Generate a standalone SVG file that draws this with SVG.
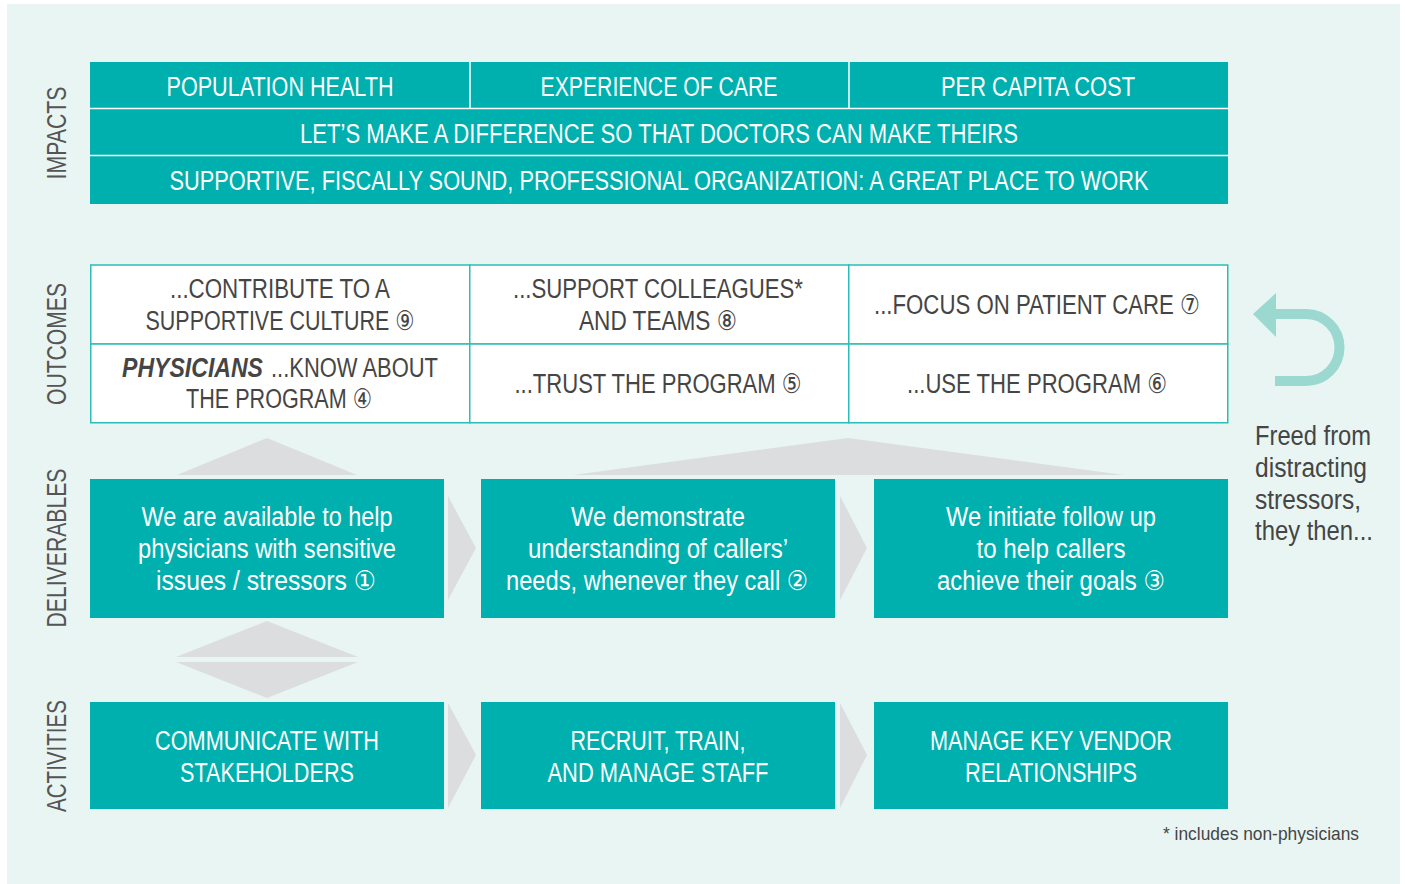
<svg xmlns="http://www.w3.org/2000/svg" width="1405" height="884" viewBox="0 0 1405 884">
  <style>
    .lbl { font-family: "Liberation Sans Narrow", "Liberation Sans", "DejaVu Sans", sans-serif; font-size: 27px; }
    .wt { fill: #ffffff; text-anchor: middle; }
    .dk { fill: #454545; text-anchor: middle; }
    .side { fill: #555555; text-anchor: middle; }
    .note { fill: #454545; }
    .teal { fill: #00B0AE; }
    .cell { fill: #ffffff; stroke: #2DBDB8; stroke-width: 1.5; }
    .gray { fill: #DCDDDF; }
    .div { stroke: #ffffff; stroke-width: 1.5; }
  </style>

  <!-- page background -->
  <rect x="7" y="4" width="1393" height="880" fill="#E8F5F3"/>

  <!-- row labels -->
  <g id="row-labels">
    <text class="lbl side" transform="translate(66,133) rotate(-90)" textLength="93" lengthAdjust="spacingAndGlyphs">IMPACTS</text>
    <text class="lbl side" transform="translate(66,344) rotate(-90)" textLength="122" lengthAdjust="spacingAndGlyphs">OUTCOMES</text>
    <text class="lbl side" transform="translate(66,548) rotate(-90)" textLength="159" lengthAdjust="spacingAndGlyphs">DELIVERABLES</text>
    <text class="lbl side" transform="translate(66,756) rotate(-90)" textLength="112" lengthAdjust="spacingAndGlyphs">ACTIVITIES</text>
  </g>

  <!-- impacts band -->
  <g id="impacts">
    <rect class="teal" x="90" y="62" width="1138" height="142"/>
    <line class="div" x1="90" y1="108.5" x2="1228" y2="108.5"/>
    <line class="div" x1="90" y1="155.5" x2="1228" y2="155.5"/>
    <line class="div" x1="470" y1="62" x2="470" y2="108"/>
    <line class="div" x1="849" y1="62" x2="849" y2="108"/>
    <text class="lbl wt" x="280" y="96" textLength="227" lengthAdjust="spacingAndGlyphs">POPULATION HEALTH</text>
    <text class="lbl wt" x="659" y="96" textLength="237" lengthAdjust="spacingAndGlyphs">EXPERIENCE OF CARE</text>
    <text class="lbl wt" x="1038" y="96" textLength="194" lengthAdjust="spacingAndGlyphs">PER CAPITA COST</text>
    <text class="lbl wt" x="659" y="143" textLength="718" lengthAdjust="spacingAndGlyphs">LET’S MAKE A DIFFERENCE SO THAT DOCTORS CAN MAKE THEIRS</text>
    <text class="lbl wt" x="659" y="190" textLength="979" lengthAdjust="spacingAndGlyphs">SUPPORTIVE, FISCALLY SOUND, PROFESSIONAL ORGANIZATION: A GREAT PLACE TO WORK</text>
  </g>

  <!-- outcomes table -->
  <g id="outcome-culture">
    <rect class="cell" x="90.75" y="265" width="379" height="79"/>
    <text class="lbl dk" x="280" y="298" textLength="220" lengthAdjust="spacingAndGlyphs">...CONTRIBUTE TO A</text>
    <text class="lbl dk" x="280" y="330" textLength="269" lengthAdjust="spacingAndGlyphs">SUPPORTIVE CULTURE ⑨</text>
  </g>
  <g id="outcome-colleagues">
    <rect class="cell" x="469.75" y="265" width="379" height="79"/>
    <text class="lbl dk" x="658" y="298" textLength="290" lengthAdjust="spacingAndGlyphs">...SUPPORT COLLEAGUES*</text>
    <text class="lbl dk" x="658" y="330" textLength="158" lengthAdjust="spacingAndGlyphs">AND TEAMS ⑧</text>
  </g>
  <g id="outcome-focus">
    <rect class="cell" x="848.75" y="265" width="379" height="79"/>
    <text class="lbl dk" x="1037" y="314" textLength="326" lengthAdjust="spacingAndGlyphs">...FOCUS ON PATIENT CARE ⑦</text>
  </g>
  <g id="outcome-know">
    <rect class="cell" x="90.75" y="344" width="379" height="78.75"/>
    <text class="lbl" x="122" y="377" fill="#454545" font-weight="bold" font-style="italic" textLength="141" lengthAdjust="spacingAndGlyphs">PHYSICIANS</text>
    <text class="lbl" x="271" y="377" fill="#454545" textLength="167" lengthAdjust="spacingAndGlyphs">...KNOW ABOUT</text>
    <text class="lbl dk" x="279" y="408" textLength="186" lengthAdjust="spacingAndGlyphs">THE PROGRAM ④</text>
  </g>
  <g id="outcome-trust">
    <rect class="cell" x="469.75" y="344" width="379" height="78.75"/>
    <text class="lbl dk" x="658" y="393" textLength="287" lengthAdjust="spacingAndGlyphs">...TRUST THE PROGRAM ⑤</text>
  </g>
  <g id="outcome-use">
    <rect class="cell" x="848.75" y="344" width="379" height="78.75"/>
    <text class="lbl dk" x="1037" y="393" textLength="260" lengthAdjust="spacingAndGlyphs">...USE THE PROGRAM ⑥</text>
  </g>

  <!-- deliverables -->
  <g id="deliverable-available">
    <rect class="teal" x="90" y="479" width="354" height="139"/>
    <text class="lbl wt" x="267" y="526" textLength="251" lengthAdjust="spacingAndGlyphs">We are available to help</text>
    <text class="lbl wt" x="267" y="558" textLength="258" lengthAdjust="spacingAndGlyphs">physicians with sensitive</text>
    <text class="lbl wt" x="266" y="590" textLength="220" lengthAdjust="spacingAndGlyphs">issues / stressors ①</text>
  </g>
  <g id="deliverable-understanding">
    <rect class="teal" x="481" y="479" width="354" height="139"/>
    <text class="lbl wt" x="658" y="526" textLength="174" lengthAdjust="spacingAndGlyphs">We demonstrate</text>
    <text class="lbl wt" x="658" y="558" textLength="260" lengthAdjust="spacingAndGlyphs">understanding of callers’</text>
    <text class="lbl wt" x="657" y="590" textLength="302" lengthAdjust="spacingAndGlyphs">needs, whenever they call ②</text>
  </g>
  <g id="deliverable-followup">
    <rect class="teal" x="874" y="479" width="354" height="139"/>
    <text class="lbl wt" x="1051" y="526" textLength="210" lengthAdjust="spacingAndGlyphs">We initiate follow up</text>
    <text class="lbl wt" x="1051" y="558" textLength="149" lengthAdjust="spacingAndGlyphs">to help callers</text>
    <text class="lbl wt" x="1051" y="590" textLength="228" lengthAdjust="spacingAndGlyphs">achieve their goals ③</text>
  </g>

  <!-- activities -->
  <g id="activity-communicate">
    <rect class="teal" x="90" y="702" width="354" height="107"/>
    <text class="lbl wt" x="267" y="750" textLength="224" lengthAdjust="spacingAndGlyphs">COMMUNICATE WITH</text>
    <text class="lbl wt" x="267" y="782" textLength="174" lengthAdjust="spacingAndGlyphs">STAKEHOLDERS</text>
  </g>
  <g id="activity-staff">
    <rect class="teal" x="481" y="702" width="354" height="107"/>
    <text class="lbl wt" x="658" y="750" textLength="175" lengthAdjust="spacingAndGlyphs">RECRUIT, TRAIN,</text>
    <text class="lbl wt" x="658" y="782" textLength="221" lengthAdjust="spacingAndGlyphs">AND MANAGE STAFF</text>
  </g>
  <g id="activity-vendor">
    <rect class="teal" x="874" y="702" width="354" height="107"/>
    <text class="lbl wt" x="1051" y="750" textLength="242" lengthAdjust="spacingAndGlyphs">MANAGE KEY VENDOR</text>
    <text class="lbl wt" x="1051" y="782" textLength="172" lengthAdjust="spacingAndGlyphs">RELATIONSHIPS</text>
  </g>

  <!-- flow connectors: chevrons, lift triangles and feedback arrow -->
  <g id="connectors">
    <polygon class="gray" points="448,496 476,548 448,600"/>
    <polygon class="gray" points="840,496 867,548 840,600"/>
    <polygon class="gray" points="448,703 476,755 448,808"/>
    <polygon class="gray" points="840,703 867,755 840,808"/>
    <polygon class="gray" points="177,475 267,438 357,475"/>
    <polygon class="gray" points="573,475 848,438 1124,475"/>
    <polygon class="gray" points="176,657 267,621 358,657"/>
    <polygon class="gray" points="176,662 267,698 358,662"/>
    <path d="M1274,314 H1306 A33.5,33.5 0 0 1 1306,381 H1275" fill="none" stroke="#9AD8D0" stroke-width="10"/>
    <polygon points="1253,314 1276,293 1276,337" fill="#9AD8D0"/>
  </g>

  <!-- side note and footnote -->
  <g id="note-freed">
    <text class="lbl note" x="1255" y="445" textLength="116" lengthAdjust="spacingAndGlyphs">Freed from</text>
    <text class="lbl note" x="1255" y="477" textLength="112" lengthAdjust="spacingAndGlyphs">distracting</text>
    <text class="lbl note" x="1255" y="509" textLength="106" lengthAdjust="spacingAndGlyphs">stressors,</text>
    <text class="lbl note" x="1255" y="540" textLength="118" lengthAdjust="spacingAndGlyphs">they then...</text>
  </g>
  <g id="footnote">
    <text class="note" x="1163" y="840" font-family="Liberation Sans Narrow, Liberation Sans, sans-serif" font-size="19" textLength="196" lengthAdjust="spacingAndGlyphs">*  includes non-physicians</text>
  </g>
</svg>
